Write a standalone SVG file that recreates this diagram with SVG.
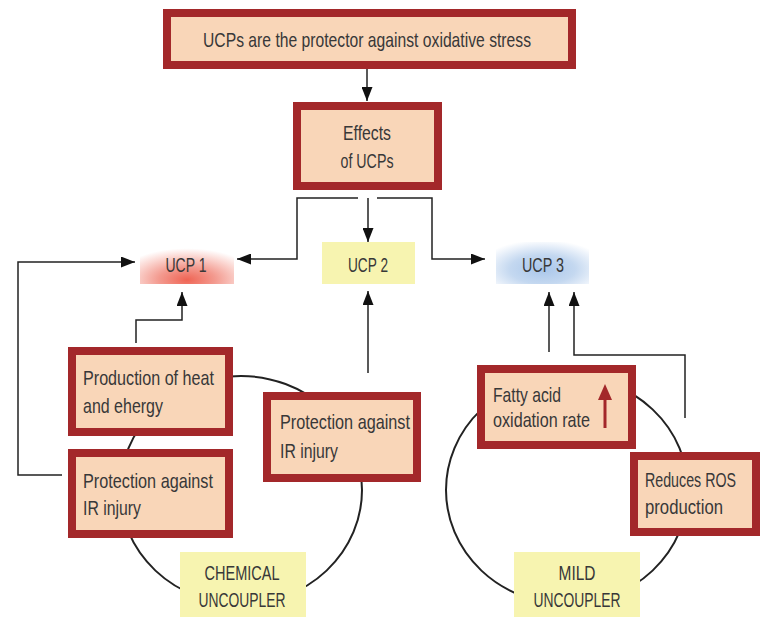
<svg xmlns="http://www.w3.org/2000/svg" width="764" height="617" viewBox="0 0 764 617">
<style>
.box{fill:#f9d6b8;stroke:#a3282a;stroke-width:8}
.yel{fill:#f7f4b0}
.t{font-family:"Liberation Sans",Arial,sans-serif;font-size:21px;fill:#383838}
.c{text-anchor:middle}
.conn{fill:none;stroke:#222;stroke-width:1.5}
.ring{fill:none;stroke:#222;stroke-width:2}
</style>
<defs>
<marker id="ah" markerUnits="userSpaceOnUse" markerWidth="14" markerHeight="11" refX="14" refY="5.5" orient="auto">
<path d="M0,0 L14,5.5 L0,11 z" fill="#111"/>
</marker>
<radialGradient id="gRed" cx="0.5" cy="0.9" r="0.75">
<stop offset="0" stop-color="#ef6454"/>
<stop offset="0.4" stop-color="#f39a8f"/>
<stop offset="0.75" stop-color="#fbd6d1"/>
<stop offset="1" stop-color="#ffffff"/>
</radialGradient>
<radialGradient id="gBlue" cx="0.5" cy="0.65" r="0.7">
<stop offset="0" stop-color="#a9c6ea"/>
<stop offset="0.5" stop-color="#c4d8f0"/>
<stop offset="0.82" stop-color="#eaf1fa"/>
<stop offset="1" stop-color="#ffffff"/>
</radialGradient>
</defs>
<rect width="764" height="617" fill="#ffffff"/>
<g id="rings">
<ellipse class="ring" cx="241" cy="490" rx="121" ry="114"/>
<ellipse class="ring" cx="567" cy="490" rx="121" ry="114"/>
</g>
<g id="connectors">
<path class="conn" d="M367,69 V101" marker-end="url(#ah)"/>
<path class="conn" d="M358,198 H297 V259 H237" marker-end="url(#ah)"/>
<path class="conn" d="M368,198 V242" marker-end="url(#ah)"/>
<path class="conn" d="M377,198 H432 V259 H485" marker-end="url(#ah)"/>
<path class="conn" d="M62,475 H18 V262 H135" marker-end="url(#ah)"/>
<path class="conn" d="M136,343 V320 H182 V292" marker-end="url(#ah)"/>
<path class="conn" d="M368,373 V291" marker-end="url(#ah)"/>
<path class="conn" d="M549,352 V292" marker-end="url(#ah)"/>
<path class="conn" d="M685,418 V355 H574 V292" marker-end="url(#ah)"/>
</g>
<g id="top">
<rect class="box" x="167" y="13" width="405" height="52"/>
<text class="t c" x="367" y="47" textLength="328" lengthAdjust="spacingAndGlyphs">UCPs are the protector against oxidative stress</text>
</g>
<g id="effects">
<rect class="box" x="297" y="106" width="141" height="80"/>
<text class="t c" x="367" y="140" textLength="48" lengthAdjust="spacingAndGlyphs">Effects</text>
<text class="t c" x="367" y="168" textLength="53" lengthAdjust="spacingAndGlyphs">of UCPs</text>
</g>
<g id="ucp1">
<rect x="140" y="242" width="94" height="42" fill="url(#gRed)"/>
<text class="t c" x="186" y="272" textLength="41" lengthAdjust="spacingAndGlyphs">UCP 1</text>
</g>
<g id="ucp2">
<rect class="yel" x="322" y="242" width="93" height="42"/>
<text class="t c" x="368" y="272" textLength="40" lengthAdjust="spacingAndGlyphs">UCP 2</text>
</g>
<g id="ucp3">
<rect x="496" y="242" width="93" height="42" fill="url(#gBlue)"/>
<text class="t c" x="543" y="272" textLength="42" lengthAdjust="spacingAndGlyphs">UCP 3</text>
</g>
<g id="production">
<rect class="box" x="72" y="351" width="157" height="81"/>
<text class="t" x="83" y="385" textLength="131" lengthAdjust="spacingAndGlyphs">Production of heat</text>
<text class="t" x="83" y="413" textLength="80" lengthAdjust="spacingAndGlyphs">and ehergy</text>
</g>
<g id="protection-left">
<rect class="box" x="72" y="453" width="157" height="81"/>
<text class="t" x="83" y="488" textLength="130" lengthAdjust="spacingAndGlyphs">Protection against</text>
<text class="t" x="83" y="515" textLength="58" lengthAdjust="spacingAndGlyphs">IR injury</text>
</g>
<g id="protection-mid">
<rect class="box" x="267" y="396" width="150" height="82"/>
<text class="t" x="280" y="429" textLength="130" lengthAdjust="spacingAndGlyphs">Protection against</text>
<text class="t" x="280" y="458" textLength="58" lengthAdjust="spacingAndGlyphs">IR injury</text>
</g>
<g id="chemical">
<rect class="yel" x="180" y="552" width="126" height="65"/>
<text class="t c" x="242" y="580" textLength="75" lengthAdjust="spacingAndGlyphs">CHEMICAL</text>
<text class="t c" x="242" y="607" textLength="87" lengthAdjust="spacingAndGlyphs">UNCOUPLER</text>
</g>
<g id="fatty">
<rect class="box" x="481" y="369" width="151" height="76"/>
<text class="t" x="493" y="402" textLength="68" lengthAdjust="spacingAndGlyphs">Fatty acid</text>
<text class="t" x="493" y="427" textLength="97" lengthAdjust="spacingAndGlyphs">oxidation rate</text>
<line x1="605" y1="428" x2="605" y2="396" stroke="#a3282a" stroke-width="3"/>
<polygon points="598,400 612,400 605,384" fill="#a3282a"/>
</g>
<g id="reduces">
<rect class="box" x="634" y="456" width="122" height="76"/>
<text class="t" x="645" y="487" textLength="91" lengthAdjust="spacingAndGlyphs">Reduces ROS</text>
<text class="t" x="645" y="514" textLength="78" lengthAdjust="spacingAndGlyphs">production</text>
</g>
<g id="mild">
<rect class="yel" x="514" y="552" width="126" height="65"/>
<text class="t c" x="577" y="580" textLength="37" lengthAdjust="spacingAndGlyphs">MILD</text>
<text class="t c" x="577" y="607" textLength="87" lengthAdjust="spacingAndGlyphs">UNCOUPLER</text>
</g>
</svg>
